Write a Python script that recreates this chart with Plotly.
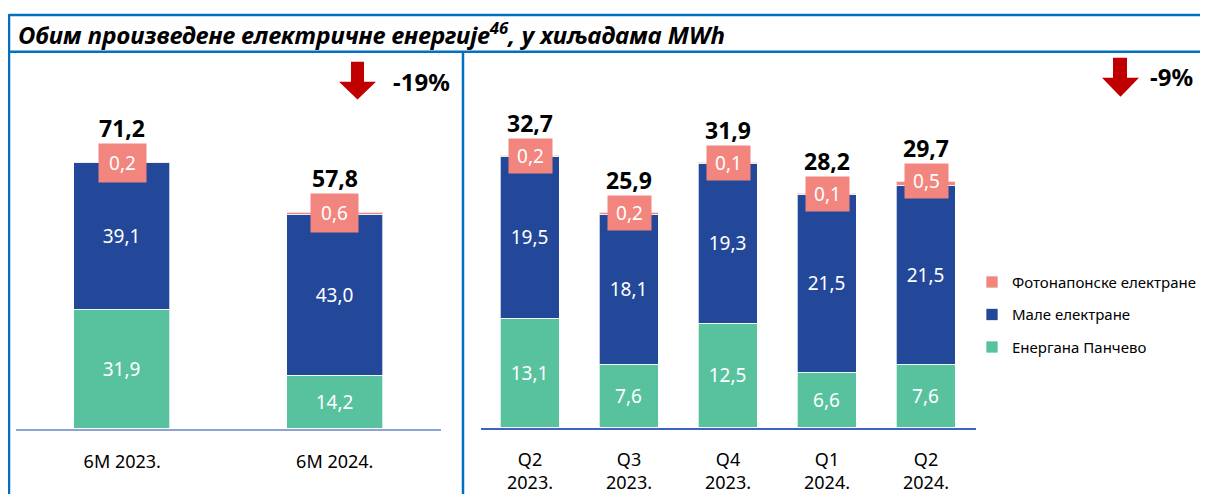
import plotly.graph_objects as go

# page body has an 8px margin; figure is offset by it
OX, OY = 8, 8
W, H = 1200, 486
FONT = "Noto Sans"

# ---- data ----
cats_6m = ["6M 2023.", "6M 2024."]
pancevo_6m = [31.9, 14.2]
male_6m = [39.1, 43.0]
foto_6m = [0.2, 0.6]
total_6m = [71.2, 57.8]

cats_q = ["Q2<br>2023.", "Q3<br>2023.", "Q4<br>2023.", "Q1<br>2024.", "Q2<br>2024."]
pancevo_q = [13.1, 7.6, 12.5, 6.6, 7.6]
male_q = [19.5, 18.1, 19.3, 21.5, 21.5]
foto_q = [0.2, 0.2, 0.1, 0.1, 0.5]
total_q = [32.7, 25.9, 31.9, 28.2, 29.7]

names = ["Енергана Панчево", "Мале електране", "Фотонапонске електране"]
colors = ["#58C29E", "#23489A", "#F3857F"]
ranks = [3, 2, 1]

def fmt(v):
    return f"{v:.1f}".replace(".", ",")

def px(x):
    return (x - OX) / W

def py(y):
    return 1 - (y - OY) / H

fig = go.Figure()

def add_group(cats, series, xa, ya, width, legend):
    for i, (vals, nm, col) in enumerate(zip(series, names, colors)):
        kw = {}
        if i < 2:
            kw = dict(text=[fmt(v) for v in vals], textposition="inside",
                      insidetextanchor="middle",
                      textfont=dict(color="white", size=19, family=FONT))
        fig.add_trace(go.Bar(
            x=cats, y=vals, name=nm, marker_color=col,
            marker_line=dict(color="rgba(255,255,255,0.7)", width=1),
            width=width, xaxis=xa, yaxis=ya,
            showlegend=legend, legendgroup=nm, legendrank=ranks[i],
            hoverinfo="skip", **kw,
        ))

add_group(cats_6m, [pancevo_6m, male_6m, foto_6m], "x", "y", 0.452, False)
add_group(cats_q, [pancevo_q, male_q, foto_q], "x2", "y2", 0.586, True)

annotations = []

def add_labels(cats, totals, fotos, xref, yref, bw, bh, shift):
    for c, t, f in zip(cats, totals, fotos):
        annotations.append(dict(x=c, y=t, xref=xref, yref=yref, text=fmt(f),
                                showarrow=False, bgcolor="#F3857F",
                                font=dict(color="white", size=19, family=FONT),
                                width=bw, height=bh, borderpad=3,
                                yanchor="middle", xanchor="center"))
        annotations.append(dict(x=c, y=t, xref=xref, yref=yref, text=f"<b>{fmt(t)}</b>",
                                showarrow=False, font=dict(color="black", size=23, family=FONT),
                                yanchor="middle", xanchor="center", yshift=shift))

add_labels(cats_6m, total_6m, foto_6m, "x", "y", 41, 32, 35)
add_labels(cats_q, total_q, foto_q, "x2", "y2", 37, 28, 33)

# title
annotations.append(dict(x=px(16), y=py(34), xref="paper", yref="paper",
                        xanchor="left", yanchor="middle", showarrow=False,
                        text="<b><i>Обим произведене електричне енергије<sup>46</sup>, у хиљадама MWh</i></b>",
                        font=dict(size=24, color="black", family=FONT)))
# changes
annotations.append(dict(x=px(421), y=py(82), xref="paper", yref="paper", showarrow=False,
                        xanchor="center", yanchor="middle",
                        text="<b>-19%</b>", font=dict(size=24, color="black", family=FONT)))
annotations.append(dict(x=px(1171), y=py(77), xref="paper", yref="paper", showarrow=False,
                        xanchor="center", yanchor="middle",
                        text="<b>-9%</b>", font=dict(size=24, color="black", family=FONT)))
fig.update_layout(annotations=annotations)

FRAME = "#0070C0"
shapes = []
for (x0, y0, x1, y1) in [(9, 15, 1210, 15), (9, 52, 1210, 52), (9, 14, 9, 500), (463, 52, 463, 500)]:
    shapes.append(dict(type="line", xref="paper", yref="paper",
                       x0=px(x0), y0=py(y0), x1=px(x1), y1=py(y1),
                       line=dict(color=FRAME, width=2.5)))

def arrow(xl, xr, sl, sr, ytop, ysh, ytip):
    xm = (xl + xr) / 2
    pts = [(sl, ytop), (sr, ytop), (sr, ysh), (xr, ysh), (xm, ytip), (xl, ysh), (sl, ysh)]
    path = "M " + " L ".join(f"{px(a):.5f},{py(b):.5f}" for a, b in pts) + " Z"
    return dict(type="path", xref="paper", yref="paper", path=path,
                fillcolor="#C00000", line=dict(width=0))

shapes.append(arrow(339, 376, 351, 364, 62, 82, 100))
shapes.append(arrow(1102, 1139, 1113, 1127, 58, 78, 97))
fig.update_layout(shapes=shapes)

fig.update_layout(
    width=W, height=H, margin=dict(l=0, r=0, t=0, b=0),
    paper_bgcolor="white", plot_bgcolor="white",
    barmode="stack",
    font=dict(family=FONT, color="black"),
    xaxis=dict(domain=[px(16), px(441)], range=[-0.5, 1.5], showgrid=False,
               showline=True, linecolor="#8EA4D2", linewidth=1.5, ticks="",
               tickfont=dict(size=18, family=FONT, color="black"), ticklabelstandoff=15),
    yaxis=dict(domain=[py(431), py(15)], range=[0, (431 - 15) / 3.76], visible=False,
               showgrid=False, zeroline=False),
    xaxis2=dict(domain=[px(480.5), px(975.5)], range=[-0.5, 4.5], showgrid=False,
                showline=True, linecolor="#3F64C0", linewidth=1.5, ticks="",
                tickfont=dict(size=18, family=FONT, color="black"), ticklabelstandoff=14,
                anchor="y2"),
    yaxis2=dict(domain=[py(430), py(15)], range=[0, (430 - 15) / 8.35], visible=False,
                showgrid=False, zeroline=False, anchor="x2"),
    legend=dict(x=px(972), y=py(316), xanchor="left", yanchor="middle",
                traceorder="grouped", tracegroupgap=10,
                font=dict(size=15, family=FONT, color="black"),
                itemwidth=30, bgcolor="rgba(0,0,0,0)"),
    bargap=0,
)

fig.write_html("out.html")
